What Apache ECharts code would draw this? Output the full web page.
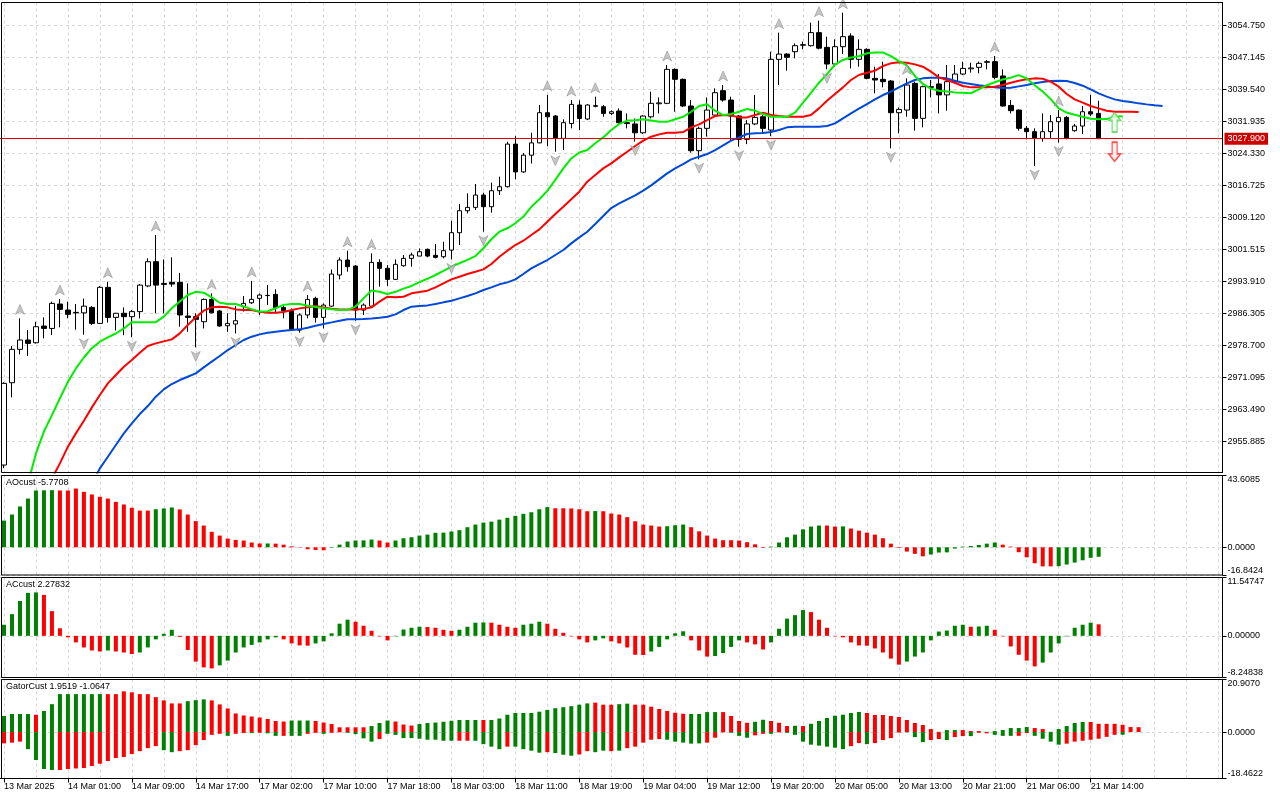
<!DOCTYPE html>
<html><head><meta charset="utf-8">
<script src="https://cdn.jsdelivr.net/npm/echarts@6.0.0/dist/echarts.min.js"></script>
<style>html,body{margin:0;padding:0;background:#fff;}#c{width:1280px;height:800px;}</style>
</head><body><div id="c"></div>
<script>
// ---- time axis labels (one every 8 hourly bars) ----
const xLabels = ['13 Mar 2025','14 Mar 01:00','14 Mar 09:00','14 Mar 17:00','17 Mar 02:00','17 Mar 10:00',
 '17 Mar 18:00','18 Mar 03:00','18 Mar 11:00','18 Mar 19:00','19 Mar 04:00','19 Mar 12:00','19 Mar 20:00',
 '20 Mar 05:00','20 Mar 13:00','20 Mar 21:00','21 Mar 06:00','21 Mar 14:00'];
const priceTicks = [2955.885,2963.490,2971.095,2978.700,2986.305,2993.910,3001.515,3009.120,3016.725,3024.330,3031.935,3039.540,3047.145,3054.750];
const lastPrice = 3027.900;

// ---- OHLC (hourly) ----
const open = [
 2950.34,2969.9,2977.83,2980.05,2979.4,2983.37,2982.8,2988.6,2987.17,2986.62,
 2986.5,2987.8,2984.0,2992.57,2985.43,2986.4,2985.6,2986.8,2992.9,2998.66,
 2993.5,2993.75,2993.75,2985.75,2985.6,2984.4,2989.7,2986.95,2983.45,2983.85,
 2987.97,2988.9,2989.95,2990.66,2990.9,2987.8,2987.0,2982.4,2986.0,2989.95,
 2985.43,2988.1,2995.5,2999.06,2997.63,2987.17,2988.1,2998.5,2997.08,2994.46,
 2997.71,2999.45,3000.0,3001.6,3000.17,2999.85,3001.43,3005.55,3010.78,3011.57,
 3014.5,3011.73,3015.53,3016.48,3026.61,3020.0,3023.97,3026.9,3034.07,3033.28,
 3027.97,3031.5,3035.9,3032.57,3035.74,3035.5,3033.9,3034.47,3031.7,3031.4,
 3029.3,3033.1,3036.2,3036.3,3044.37,3042.0,3035.66,3025.04,3030.35,3033.5,
 3039.3,3037.08,3033.28,3027.74,3031.4,3033.1,3029.95,3046.75,3048.0,3048.57,
 3050.1,3050.0,3053.1,3049.6,3045.64,3049.76,3052.3,3046.75,3049.13,3042.23,
 3042.0,3041.6,3034.07,3034.7,3041.05,3032.73,3040.09,3040.9,3038.3,3041.44,
 3043.26,3044.5,3044.85,3046.04,3046.2,3042.8,3035.8,3034.7,3030.35,3029.56,
 3027.97,3029.56,3031.93,3032.96,3029.8,3030.9,3034.3,3033.9];
const high = [
 2970.0,2978.6,2985.19,2982.42,2984.4,2985.43,2989.16,2989.79,2989.16,2988.6,
 2989.9,2988.1,2992.9,2993.9,2986.5,2987.8,2987.2,2993.35,2999.45,3005.0,
 2999.2,2999.7,2996.0,2993.5,2986.4,2989.9,2991.14,2987.2,2986.4,2988.1,
 2990.5,2994.1,2991.1,2993.1,2992.1,2988.6,2987.55,2986.4,2990.74,2990.35,
 2988.76,2996.8,2999.7,3001.28,2997.87,2988.76,3000.64,2999.22,2997.87,2999.22,
 3000.25,3000.8,3001.8,3001.8,3002.86,3003.4,3008.4,3012.37,3014.9,3017.13,
 3015.06,3017.44,3018.86,3027.17,3028.5,3024.5,3029.3,3035.9,3038.3,3033.5,
 3032.5,3037.08,3037.0,3036.1,3037.87,3035.9,3034.6,3035.1,3033.9,3032.7,
 3033.5,3039.06,3037.7,3045.4,3044.6,3042.2,3037.08,3030.75,3037.7,3039.86,
 3040.65,3037.87,3033.5,3032.3,3038.3,3033.5,3048.57,3053.1,3048.2,3050.55,
 3050.95,3055.46,3055.94,3052.14,3051.5,3057.84,3052.93,3051.5,3049.37,3045.0,
 3046.2,3041.84,3035.34,3042.23,3041.44,3040.5,3041.84,3043.26,3045.4,3045.4,
 3046.2,3045.96,3046.2,3046.6,3047.54,3044.37,3037.08,3034.86,3030.9,3030.35,
 3033.9,3033.5,3034.7,3033.28,3031.4,3035.66,3038.3,3036.9];
const low = [
 2949.6,2966.42,2976.64,2976.24,2979.2,2980.44,2981.23,2983.06,2985.19,2982.5,
 2981.3,2983.6,2983.9,2984.2,2982.3,2981.2,2980.7,2985.2,2992.6,2986.4,
 2986.4,2992.7,2983.2,2982.0,2978.3,2982.8,2986.4,2983.2,2982.0,2981.6,
 2986.8,2988.6,2986.0,2988.35,2986.4,2985.2,2982.26,2981.8,2985.2,2984.2,
 2982.8,2987.97,2994.46,2996.28,2984.64,2986.0,2987.97,2992.73,2992.9,2994.3,
 2997.47,2997.47,3000.0,2999.7,2999.45,2999.45,2999.2,3002.62,3010.15,3010.94,
 3005.79,3010.31,3014.5,3016.3,3018.23,3019.8,3022.0,3026.8,3026.1,3024.8,
 3025.2,3030.35,3029.95,3032.3,3035.34,3033.1,3033.5,3031.4,3030.35,3027.2,
 3029.0,3032.7,3033.9,3036.1,3034.3,3035.4,3024.57,3023.0,3028.4,3033.3,
 3036.7,3027.58,3026.0,3026.6,3031.1,3029.16,3028.5,3040.65,3044.05,3046.99,
 3049.13,3049.8,3049.13,3044.4,3045.0,3048.0,3044.6,3045.0,3042.0,3038.67,
 3040.09,3025.6,3029.16,3033.1,3029.8,3030.59,3037.7,3033.9,3034.55,3041.05,
 3043.0,3043.6,3043.42,3044.37,3042.0,3035.5,3033.9,3029.8,3027.74,3021.4,
 3027.2,3027.97,3026.97,3027.74,3029.56,3029.0,3033.28,3027.9];
const close = [
 2969.75,2977.83,2980.05,2979.25,2983.21,2982.8,2988.76,2987.33,2986.15,2986.5,
 2988.1,2984.0,2992.57,2985.43,2986.4,2985.6,2986.8,2993.1,2998.66,2993.1,
 2993.27,2993.35,2986.0,2985.43,2984.96,2989.7,2986.5,2983.37,2984.0,2984.64,
 2988.76,2989.7,2990.74,2990.6,2987.8,2987.0,2982.4,2986.0,2989.7,2985.43,
 2988.35,2995.73,2999.06,2997.47,2987.17,2988.35,2998.5,2997.08,2994.46,2998.03,
 2999.45,3000.25,3001.03,3000.0,2999.7,3001.28,3005.55,3010.78,3011.57,3014.5,
 3011.73,3015.53,3016.48,3026.61,3020.0,3023.97,3026.9,3034.07,3033.1,3027.97,
 3031.7,3036.05,3032.7,3035.9,3035.6,3033.9,3034.3,3031.7,3031.5,3029.3,
 3033.28,3036.3,3036.4,3044.37,3042.0,3035.66,3025.04,3030.35,3034.7,3038.83,
 3037.08,3033.28,3027.74,3031.4,3032.96,3030.35,3046.75,3048.0,3047.22,3050.0,
 3050.24,3053.1,3049.4,3045.64,3049.76,3052.14,3046.75,3049.13,3042.23,3041.84,
 3041.44,3034.07,3034.86,3040.65,3032.73,3040.26,3040.26,3038.3,3041.44,3043.26,
 3044.6,3044.7,3045.8,3046.2,3042.47,3035.66,3034.55,3030.35,3029.56,3027.97,
 3029.56,3031.93,3032.96,3027.97,3030.9,3034.3,3033.75,3027.9];

// ---- Alligator lines (already shifted: lips +3, teeth +5, jaw +8 bars) ----
const lips = [null,null,null,2945.98,2953.1,2958.3,2962.2,2966.2,2970.1,2973.3,
 2975.9,2978.1,2979.65,2980.7,2981.6,2982.8,2984.3,2984.3,2984.3,2984.3,
 2985.6,2987.6,2989.2,2990.75,2991.5,2991.3,2990.2,2988.9,2988.6,2988.6,
 2988.0,2987.4,2986.8,2986.9,2987.6,2988.4,2988.6,2988.6,2988.2,2987.9,
 2987.6,2987.35,2987.2,2987.2,2988.0,2989.95,2991.8,2991.5,2991.0,2991.5,
 2992.25,2992.9,2993.8,2994.6,2995.5,2996.5,2997.5,2998.3,2999.1,3000.0,
 3001.85,3004.0,3005.8,3006.6,3007.8,3009.4,3011.7,3013.5,3015.5,3018.1,
 3020.85,3023.2,3024.6,3025.2,3026.8,3028.2,3029.95,3031.4,3032.2,3032.3,
 3032.5,3032.2,3031.9,3031.9,3032.5,3033.1,3034.3,3035.65,3036.1,3034.55,
 3033.5,3033.75,3034.3,3034.95,3034.55,3033.75,3033.1,3033.1,3033.1,3034.1,
 3036.45,3038.8,3041.2,3043.25,3045.5,3046.6,3047.2,3047.5,3048.2,3048.4,
 3048.4,3047.5,3046.35,3045.3,3042.8,3040.9,3039.8,3039.3,3039.1,3038.9,
 3038.8,3038.7,3039.6,3040.6,3041.3,3041.95,3042.4,3043.0,3042.2,3040.6,
 3039.1,3037.3,3035.1,3034.1,3033.6,3033.1,3032.65,3032.5,3032.55,3033.1,
 3033.2];
const teeth = [null,null,null,null,null,null,2947.17,2950.73,2954.70,2957.86,
 2960.87,2964.04,2966.97,2969.75,2971.73,2973.71,2975.29,2977.04,2978.62,2979.25,
 2979.73,2980.2,2981.63,2983.61,2985.43,2987.02,2987.81,2987.97,2987.81,2987.33,
 2987.18,2987.18,2986.78,2986.54,2986.54,2986.70,2987.18,2987.57,2987.81,2988.13,
 2987.81,2987.49,2987.33,2987.33,2987.33,2987.41,2987.81,2989.16,2990.34,2990.19,
 2990.34,2991.14,2991.45,2991.77,2992.56,2993.51,2994.46,2995.1,2995.73,2996.29,
 2996.84,2998.11,2999.85,3001.28,3002.62,3003.65,3005.0,3006.35,3008.17,3009.99,
 3011.73,3013.48,3015.3,3017.67,3019.26,3020.84,3022.03,3023.46,3024.8,3026.15,
 3027.42,3028.37,3028.92,3029.32,3029.32,3029.48,3030.59,3031.3,3032.33,3033.28,
 3033.52,3033.44,3032.96,3032.96,3033.52,3034.07,3033.52,3033.28,3033.12,3033.12,
 3033.12,3033.52,3035.1,3036.93,3038.51,3040.09,3041.84,3043.03,3043.58,3044.06,
 3045.16,3045.8,3046.04,3045.96,3045.56,3045.01,3043.82,3042.47,3041.84,3041.2,
 3040.41,3040.09,3040.09,3040.09,3040.25,3040.65,3041.2,3041.68,3042.0,3042.23,
 3042.15,3041.44,3040.25,3038.51,3037.24,3036.45,3035.66,3035.1,3034.55,3034.31,
 3034.31,3034.31,3034.23];
const jaw = [null,null,null,null,null,null,null,null,null,null,
 null,2945.9,2949.55,2952.32,2955.09,2957.86,2960.24,2962.46,2964.36,2966.58,
 2968.32,2969.59,2970.54,2971.33,2972.12,2973.55,2974.9,2976.24,2977.67,2978.86,
 2980.05,2980.84,2981.39,2981.79,2982.03,2982.26,2982.42,2982.58,2982.98,2983.45,
 2983.85,2984.24,2984.64,2984.96,2984.96,2985.04,2985.19,2985.35,2985.59,2986.15,
 2987.18,2987.97,2988.13,2988.28,2988.6,2989.0,2989.39,2989.95,2990.5,2991.14,
 2991.93,2992.56,2993.28,2993.75,2994.46,2995.73,2997.08,2998.11,2999.06,3000.25,
 3001.44,3003.02,3004.45,3005.79,3007.61,3009.52,3011.42,3012.53,3013.48,3014.43,
 3015.54,3016.8,3018.23,3019.66,3020.84,3021.87,3022.98,3023.62,3024.25,3025.2,
 3026.31,3027.42,3028.21,3029.0,3029.16,3029.24,3029.48,3029.95,3030.59,3030.75,
 3030.75,3030.75,3030.75,3030.9,3031.54,3032.73,3033.92,3035.02,3036.13,3037.24,
 3038.27,3039.06,3040.09,3041.05,3041.84,3042.23,3042.39,3042.39,3042.23,3041.68,
 3041.2,3040.89,3040.57,3040.33,3040.09,3039.93,3040.01,3040.33,3040.65,3041.05,
 3041.36,3041.6,3041.68,3041.6,3041.12,3040.49,3039.62,3038.67,3037.88,3037.24,
 3036.85,3036.61,3036.29,3036.05,3035.82,3035.66];

// ---- Fractals (bar indexes) and the last-bar signals ----
const fractalUp = [2,7,13,19,26,31,38,43,46,68,71,74,83,90,97,102,105,113,124,132];
const fractalDown = [10,16,24,29,37,40,44,56,60,69,79,87,92,96,103,111,129,132];
const signalUp = [[139, 3031.75]];
const signalDown = [[139, 3024.8]];

// ---- AOcust ----
const aoValues = [
 16.2,19.9,24.8,29.6,34.5,34.6,34.7,34.5,34.5,35.7,
 33.7,32.1,30.7,29.6,27.6,26.0,24.0,22.3,22.3,23.1,
 23.6,24.2,23.0,19.9,15.9,13.2,9.4,7.1,5.3,4.5,
 4.1,2.9,2.3,2.3,2.2,1.6,0.6,-0.2,-1.2,-1.6,
 -1.8,-0.3,1.6,3.5,4.1,4.2,4.7,4.1,2.9,4.1,
 5.5,6.1,7.1,7.7,8.8,8.9,9.6,10.4,12.2,13.8,
 15.0,15.6,16.8,17.9,19.1,20.3,21.3,23.1,24.4,23.7,
 23.7,23.6,23.1,21.9,22.0,21.9,20.5,19.9,18.3,15.8,
 13.8,13.2,12.6,12.8,13.4,13.8,12.2,9.7,7.1,5.3,
 4.3,4.3,4.1,3.1,1.8,-0.4,0.4,2.9,6.1,7.7,
 10.9,12.6,13.2,13.2,12.6,12.7,11.4,10.1,8.9,7.7,
 5.5,2.2,-0.4,-2.6,-4.0,-5.5,-4.4,-3.2,-3.1,-0.8,
 0.4,0.8,1.4,2.2,2.9,1.6,0.4,-3.0,-6.1,-9.7,
 -11.6,-11.6,-11.5,-10.5,-9.3,-7.9,-6.4,-5.7708];
const aoColor = ('GGGGGGGRRR'+'RRRRRRRRRG'+'GGRRRRRRRR'+'RRRGRRRRRR'+'RGGGGGGRRG'+'GGGGGGGGGG'+
 'GGGGGGGGGR'+'RRRRGRRRRR'+'RRRGGGRRRR'+'RRRRRRGGGG'+'GGGRRGRRRR'+'RRRRRRGGGG'+'GGGGGRRRRR'+'RRGGGGGG').split('');

// ---- ACcust ----
const acValues = [
 2.2,4.3,6.9,8.5,8.6,8.1,4.9,1.5,-0.3,-1.3,
 -2.3,-2.9,-3.1,-2.9,-3.1,-3.3,-3.6,-3.3,-2.3,-0.7,
 0.4,1.2,-0.2,-2.8,-5.1,-6.25,-6.45,-5.85,-4.9,-3.3,
 -2.3,-1.8,-1.3,-0.7,-0.3,-0.7,-1.5,-1.9,-1.95,-1.5,
 -1.1,0.5,2.4,3.2,2.8,2.0,1.0,-0.1,-0.9,-0.1,
 1.25,1.6,1.8,1.75,1.6,1.2,1.0,1.2,1.8,2.6,
 2.65,2.6,2.2,1.8,1.6,2.2,2.4,2.8,2.4,1.4,
 0.6,-0.1,-0.7,-1.3,-0.9,-0.5,-1.1,-1.5,-2.3,-3.75,
 -3.8,-3.1,-2.2,-0.7,0.5,0.9,-0.9,-2.9,-4.1,-4.0,
 -3.4,-2.2,-0.9,-1.3,-1.7,-2.7,-1.3,1.4,3.4,4.1,
 5.1,4.7,3.2,1.6,-0.1,-0.3,-1.3,-1.9,-1.95,-2.5,
 -3.3,-4.5,-5.7,-5.1,-4.1,-3.3,-0.9,0.85,1.05,2.0,
 2.2,1.8,1.85,2.0,1.2,-0.1,-2.1,-3.75,-4.9,-6.05,
 -5.3,-3.3,-1.5,-0.1,1.6,2.2,2.6,2.27832];
const acColor = ('GGGGGRRRRR'+'RRRGRRRGGG'+'GGRRRRRGGG'+'GGGGGRRRRG'+'GGGGRRRRRG'+'GGGRRRRGGG'+
 'GRRRRGGGRR'+'RRRRGGRRRR'+'RGGGGGRRRG'+'GGGRRRGGGG'+'GRRRRRRRRR'+'RRRGGGGGGG'+'GRGGRRRRRR'+'GGGGGGGR').split('');

// ---- GatorCust ----
const gatorUp = [
 6.4,7.2,7.2,7.2,6.9,8.4,11.1,15.1,15.1,15.1,
 15.1,15.1,15.1,15.1,15.1,16.2,15.8,15.1,15.1,13.9,
 12.6,11.4,11.4,12.3,12.7,13.0,12.6,11.0,9.4,7.4,
 6.6,6.2,5.8,5.2,4.4,4.2,4.6,4.6,4.6,4.4,
 3.8,3.2,1.9,1.9,1.9,1.9,2.4,3.6,4.6,4.2,
 3.0,2.6,3.2,3.6,3.8,4.1,4.5,4.8,4.8,4.8,
 4.8,4.8,5.4,6.9,7.6,7.6,7.6,8.1,8.8,9.5,
 9.9,10.3,10.9,11.4,11.7,10.9,10.9,11.1,11.3,10.9,
 10.9,10.1,9.2,8.4,7.7,7.3,7.2,7.2,7.95,7.95,
 7.95,6.4,4.4,3.7,4.1,4.9,4.4,3.7,2.4,2.5,
 2.4,3.3,4.4,5.6,6.5,6.9,7.6,8.0,7.6,6.8,
 6.8,6.4,6.0,4.8,3.6,2.8,1.2,0.1,0.8,0.8,
 0.8,0.4,0.4,0.1,0.4,0.8,1.6,1.6,2.0,1.6,
 1.2,0.1,1.2,2.4,3.6,4.0,4.0,3.3,3.3,3.3,
 2.9,2.0,1.9519];
const gatorUpColor = ('GGGGRGGGGG'+'GGGRRRRRRR'+'RRRGGGRRRR'+'RRRRRRGGGR'+'RRRRRRGGGR'+'RRGGGGGGGG'+
 'RGGGGGGGGG'+'GGGGRRRGGR'+'RRRRRRGGGG'+'RRRRGGRRRG'+'RGGGGGGGRR'+'RRRRRRRRGG'+'RRRGGGGGGR'+'RGGGGGRRRR'+'RRR').split('');
const gatorDown = [
 -4.5,-4.2,-3.8,-6.8,-11.1,-14.7,-15.1,-15.1,-14.7,-14.45,
 -14.3,-13.5,-12.6,-11.5,-10.3,-9.9,-8.75,-7.6,-6.4,-5.6,
 -7.2,-8.0,-7.6,-7.2,-5.2,-3.2,-1.1,-0.7,-1.5,-0.7,
 -0.4,-0.4,-0.3,-0.5,-1.5,-1.5,-1.5,-1.5,-0.7,-0.3,
 -0.7,-0.3,-0.1,-0.3,-0.8,-2.5,-3.8,-2.8,-0.7,-1.1,
 -2.4,-2.4,-2.65,-3.05,-3.05,-3.45,-3.45,-3.45,-3.45,-3.45,
 -4.8,-5.8,-6.8,-5.8,-5.8,-6.8,-7.4,-8.2,-8.0,-8.35,
 -9.0,-9.4,-8.9,-7.6,-8.0,-7.4,-7.6,-7.4,-6.4,-5.8,
 -4.2,-3.05,-2.8,-3.05,-3.8,-4.2,-4.6,-4.5,-4.2,-2.25,
 -0.13,-0.3,-1.5,-2.25,-1.3,-0.7,-0.7,-0.13,-0.3,-1.1,
 -3.8,-5.0,-5.4,-5.8,-6.2,-6.8,-5.6,-4.4,-4.8,-4.4,
 -3.2,-2.4,-0.2,-0.1,-2.0,-4.0,-3.2,-2.8,-3.2,-2.0,
 -1.6,-1.6,-0.3,-0.5,-1.1,-1.5,-1.5,-1.5,-0.4,-1.5,
 -2.65,-3.8,-5.0,-4.6,-3.8,-3.45,-3.05,-2.65,-1.9,-1.1,
 -1.0647];
const gatorDownColor = ('RRRGGGGRRR'+'RRRRRRRRRR'+'GGRRRRRRGR'+'RGRGGRGGRR'+'GRRGGGGRGG'+'GGGGGGGRRG'+
 'GGGRGGGGRG'+'GGRRGGRGRR'+'RRRGGGGGRR'+'RGGGRRGRGG'+'GGGGGGRRGR'+'RRRGGGRRGR'+'RGRRGGGRRG'+'GGGRRRRRRR'+'G').split('');

// ---- build ----
const N = 153;
const cats = Array.from({length: N}, (_, i) => String(i));
const gridVals = Array.from({length: 39}, (_, k) => k * 4);
const FONT = 'Liberation Sans, Arial, sans-serif';
const GREEN = '#008000', RED = '#ff0000';
const dash = {color: '#d6d6d6', type: [3, 3], width: 1};
const panels = [
  {top: 2.5, height: 470},
  {top: 475.5, height: 99.5},
  {top: 577.5, height: 100},
  {top: 679.5, height: 99}
];
const labelIdx = (i) => i % 8 === 0 && i / 8 < xLabels.length;

const xAxes = [], yAxes = [];
panels.forEach((p, g) => {
  const last = g === 3;
  xAxes.push({
    gridIndex: g, type: 'category', data: cats, boundaryGap: true, position: 'bottom',
    axisLine: {show: last, onZero: false, lineStyle: {color: '#000'}},
    axisTick: {show: last, alignWithLabel: true, length: 4, interval: (i) => labelIdx(i), lineStyle: {color: '#000'}},
    axisLabel: {show: last, interval: (i) => labelIdx(i), formatter: (v, i) => labelIdx(i) ? xLabels[i / 8] : '',
      align: 'left', margin: 4, fontSize: 9, color: '#000', fontFamily: FONT},
    splitLine: {show: false}
  });
  xAxes.push({
    gridIndex: g, type: 'value', position: 'top', min: -0.5, max: N - 0.5,
    axisLine: {show: false, onZero: false}, axisTick: {show: false, customValues: gridVals},
    axisLabel: {show: false, customValues: gridVals},
    splitLine: {show: true, lineStyle: dash}
  });
});
function subY(g, mn, mx, dec) {
  return {
    gridIndex: g, type: 'value', position: 'right', min: mn, max: mx,
    axisLine: {show: true, onZero: false, lineStyle: {color: '#000'}},
    axisTick: {show: true, length: 4, customValues: [mn, 0, mx], lineStyle: {color: '#000'}},
    axisLabel: {customValues: [mn, 0, mx], formatter: (v) => v.toFixed(dec), margin: 5, fontSize: 9, color: '#000',
      fontFamily: FONT, verticalAlignMinLabel: 'bottom', verticalAlignMaxLabel: 'top'},
    splitLine: {show: true, lineStyle: dash}
  };
}
yAxes.push({
  gridIndex: 0, type: 'value', position: 'right', min: 2948.565, max: 3060.26,
  axisLine: {show: true, onZero: false, lineStyle: {color: '#000'}},
  axisTick: {show: true, length: 4, customValues: priceTicks, lineStyle: {color: '#000'}},
  axisLabel: {customValues: priceTicks, formatter: (v) => v.toFixed(3), margin: 5, fontSize: 9, color: '#000', fontFamily: FONT},
  splitLine: {show: true, lineStyle: dash}
});
yAxes.push(subY(1, -16.8424, 43.6085, 4));
yAxes.push(subY(2, -8.24838, 11.54747, 5));
yAxes.push(subY(3, -18.4622, 20.907, 4));

const colored = (vals, cols) => vals.map((v, i) => ({value: v, itemStyle: {color: cols[i] === 'G' ? GREEN : RED}}));
const lineS = (data, color) => ({type: 'line', xAxisIndex: 0, yAxisIndex: 0, data, symbol: 'none', showSymbol: false,
  lineStyle: {color, width: 2}, connectNulls: false, silent: true, z: 4});

const fracUpPath = 'path://M5,0 L10,11 L5,8 L0,11 Z';
const fracDnPath = 'path://M0,0 L5,3 L10,0 L5,11 Z';
const sigUpPath = 'path://M6,0 L12,7 L8.5,7 L8.5,18 L3.5,18 L3.5,7 L0,7 Z';
const sigDnPath = 'path://M3.5,0 L8.5,0 L8.5,11 L12,11 L6,18 L0,11 L3.5,11 Z';

const option = {
  animation: false,
  backgroundColor: '#fff',
  textStyle: {fontFamily: FONT},
  grid: panels.map(p => ({left: -1.5, width: 1224, top: p.top, height: p.height, containLabel: false})),
  xAxis: xAxes,
  yAxis: yAxes,
  title: [
    {text: 'AOcust -5.7708', left: 6, top: 478, padding: 0, textStyle: {fontSize: 9, fontWeight: 'normal', color: '#000', fontFamily: FONT}},
    {text: 'ACcust 2.27832', left: 6, top: 580, padding: 0, textStyle: {fontSize: 9, fontWeight: 'normal', color: '#000', fontFamily: FONT}},
    {text: 'GatorCust 1.9519 -1.0647', left: 6, top: 682, padding: 0, textStyle: {fontSize: 9, fontWeight: 'normal', color: '#000', fontFamily: FONT}}
  ],
  series: [
    {
      type: 'candlestick', xAxisIndex: 0, yAxisIndex: 0, barWidth: 5, z: 3,
      data: open.map((o, i) => [o, close[i], low[i], high[i]]),
      itemStyle: {color: '#ffffff', color0: '#000000', borderColor: '#000000', borderColor0: '#000000', borderWidth: 1},
      markLine: {
        silent: true, symbol: ['none', 'none'], animation: false,
        data: [{yAxis: lastPrice}],
        lineStyle: {color: '#e00000', width: 1, type: 'solid'},
        label: {show: true, position: 'end', distance: 2, formatter: lastPrice.toFixed(3), color: '#fff',
          backgroundColor: '#cc0000', padding: [2, 3, 1, 3], fontSize: 9, fontFamily: FONT}
      }
    },
    lineS(jaw, '#0048d8'),
    lineS(teeth, '#ff0000'),
    lineS(lips, '#00ee00'),
    {type: 'scatter', xAxisIndex: 0, yAxisIndex: 0, silent: true, z: 5,
     data: fractalUp.map(i => [i, high[i]]), symbol: fracUpPath, symbolSize: [9, 10], symbolOffset: [0, -9],
     itemStyle: {color: '#b8b8b8', borderColor: '#7c7c7c', borderWidth: 0.6}},
    {type: 'scatter', xAxisIndex: 0, yAxisIndex: 0, silent: true, z: 5,
     data: fractalDown.map(i => [i, low[i]]), symbol: fracDnPath, symbolSize: [9, 10], symbolOffset: [0, 9],
     itemStyle: {color: '#b8b8b8', borderColor: '#7c7c7c', borderWidth: 0.6}},
    {type: 'scatter', xAxisIndex: 0, yAxisIndex: 0, silent: true, z: 6,
     data: signalUp, symbol: sigUpPath, symbolSize: [12, 19],
     itemStyle: {color: '#eaffea', borderColor: '#5ccf5c', borderWidth: 1.5}},
    {type: 'scatter', xAxisIndex: 0, yAxisIndex: 0, silent: true, z: 6,
     data: signalDown, symbol: sigDnPath, symbolSize: [12, 19],
     itemStyle: {color: '#ffecec', borderColor: '#ff2a2a', borderWidth: 1.5}},
    {type: 'bar', xAxisIndex: 2, yAxisIndex: 1, barWidth: 4, silent: true, data: colored(aoValues, aoColor)},
    {type: 'bar', xAxisIndex: 4, yAxisIndex: 2, barWidth: 4, silent: true, data: colored(acValues, acColor)},
    {type: 'bar', xAxisIndex: 6, yAxisIndex: 3, barWidth: 4, barGap: '-100%', silent: true, data: colored(gatorUp, gatorUpColor)},
    {type: 'bar', xAxisIndex: 6, yAxisIndex: 3, barWidth: 4, barGap: '-100%', silent: true, data: colored(gatorDown, gatorDownColor)}
  ],
  graphic: panels.map(p => ({
    type: 'rect', silent: true, z: 100,
    shape: {x: 1.5, y: p.top, width: 1221, height: p.height},
    style: {fill: null, stroke: '#000', lineWidth: 1}
  }))
};

const chart = echarts.init(document.getElementById('c'), null, {renderer: 'canvas'});
chart.setOption(option);
</script>
</body></html>
